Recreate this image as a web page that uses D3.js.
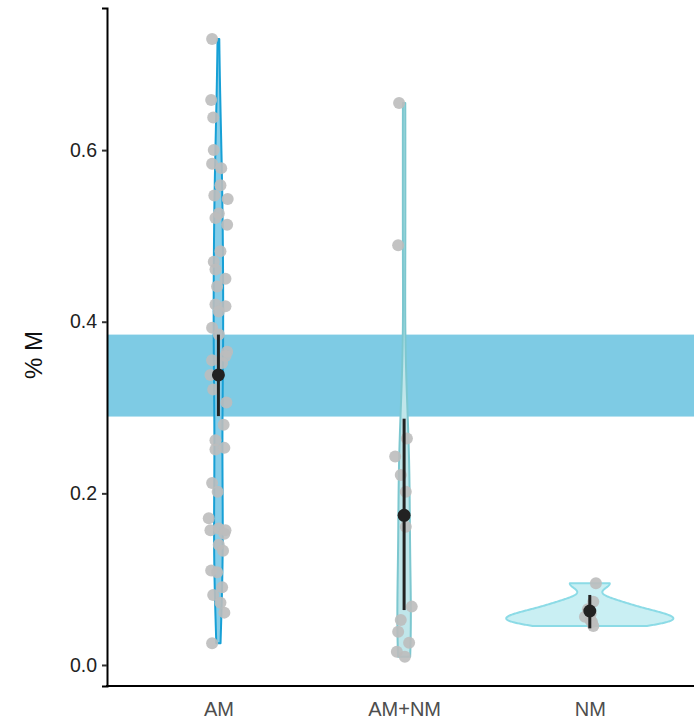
<!DOCTYPE html>
<html>
<head>
<meta charset="utf-8">
<script src="https://cdn.jsdelivr.net/npm/d3@7"></script>
<style>
  html, body { margin: 0; padding: 0; background: #fff; }
  svg { display: block; font-family: "Liberation Sans", Arial, sans-serif; }
</style>
</head>
<body>
<svg id="chart" width="694" height="724"></svg>
<script>
// ---------------- data ----------------
const categories = ["AM", "AM+NM", "NM"];

// observed values per group
const amValues = [0.7296, 0.6585, 0.638, 0.600, 0.584, 0.579, 0.559, 0.547, 0.543, 0.526, 0.521, 0.513,
  0.482, 0.470, 0.461, 0.450, 0.441, 0.420, 0.418, 0.412, 0.393, 0.385, 0.365, 0.360, 0.355, 0.352,
  0.338, 0.321, 0.306, 0.280, 0.262, 0.251, 0.253, 0.212, 0.202, 0.171, 0.157, 0.159, 0.157, 0.153,
  0.140, 0.133, 0.110, 0.108, 0.0906, 0.0816, 0.0726, 0.061, 0.0253];
// horizontal jitter (fraction of category step)
const amJitter = [-0.034, -0.039, -0.028, -0.025, -0.034, 0.015, 0.011, -0.022, 0.050, 0.002, -0.016, 0.047,
  0.011, -0.025, -0.016, 0.038, -0.007, -0.016, 0.038, 0.002, -0.034, 0.002, 0.047, 0.038, -0.034, 0.020,
  -0.043, -0.028, 0.043, 0.028, -0.016, -0.016, 0.032, -0.034, -0.004, -0.052, -0.043, 0.002, 0.038, 0.032,
  0.002, 0.025, -0.039, -0.007, 0.020, -0.028, 0.011, 0.032, -0.034];

const amnmValues = [0.655, 0.489, 0.264, 0.243, 0.2215, 0.202, 0.161, 0.068, 0.0524, 0.0388, 0.026, 0.0155, 0.0097];
const amnmJitter = [-0.027, -0.032, 0.015, -0.048, -0.018, 0.009, 0.009, 0.041, -0.018, -0.032, 0.027, -0.039, 0.004];

const nmValues = [0.0952, 0.0738, 0.065, 0.060, 0.0563, 0.052, 0.050, 0.0455];
const nmJitter = [0.033, 0.019, -0.010, 0.005, -0.026, 0.004, 0.012, 0.019];

// group estimates (mean and interval)
const estMean = [0.338, 0.1744, 0.0629];
const estLow  = [0.290, 0.064, 0.0427];
const estHigh = [0.385, 0.287, 0.0816];

// reference band
const bandLow = 0.2895;
const bandHigh = 0.3850;

const yTicks = [0.0, 0.2, 0.4, 0.6];
const yLimits = [-0.0245, 0.7656];
const yTitle = "% M";

// ---------------- styles ----------------
const violinStroke = ["#17a0d6", "#7cc7cf", "#8cdbe6"];
const violinFill   = ["#86cde8", "#c0e6ea", "#c9eff3"];

// ---------------- layout ----------------
const svg = d3.select("#chart");
const panelLeft = 107, panelBottom = 686;

const y = d3.scaleLinear().domain(yLimits).range([panelBottom, 8]);
const x = d3.scalePoint().domain(categories).range([panelLeft, 701.2]).padding(0.6);
const step = x.step();

// band
svg.append("rect")
  .attr("x", panelLeft).attr("width", 694 - panelLeft)
  .attr("y", y(bandHigh)).attr("height", y(bandLow) - y(bandHigh))
  .attr("fill", "#7ecbe4");

// ---------------- KDE (gaussian, nrd0 bandwidth, trimmed) ----------------
function nrd0(v) {
  const s = v.slice().sort(d3.ascending);
  const sd = d3.deviation(s);
  const iqr = d3.quantileSorted(s, 0.75) - d3.quantileSorted(s, 0.25);
  let lo = Math.min(sd, iqr / 1.34);
  if (!(lo > 0)) lo = sd || Math.abs(s[0]) || 1;
  return 0.9 * lo * Math.pow(s.length, -0.2);
}
function kde(v) {
  const bw = nrd0(v);
  const lo = d3.min(v), hi = d3.max(v);
  const n = 200;
  const pts = [];
  for (let i = 0; i <= n; i++) {
    const t = lo + (hi - lo) * i / n;
    let s = 0;
    for (const xi of v) { const z = (t - xi) / bw; s += Math.exp(-0.5 * z * z); }
    pts.push({ t, d: s / (v.length * bw * Math.sqrt(2 * Math.PI)) });
  }
  return pts;
}

const groups = [
  { cat: categories[0], values: amValues, jitter: amJitter },
  { cat: categories[1], values: amnmValues, jitter: amnmJitter },
  { cat: categories[2], values: nmValues, jitter: nmJitter }
];
groups.forEach(g => g.dens = kde(g.values));
const maxD = d3.max(groups, g => d3.max(g.dens, p => p.d));
const halfMax = 0.45 * step;

groups.forEach((g, i) => {
  const cx = x(g.cat);
  const area = d3.area()
    .y(p => y(p.t))
    .x0(p => cx - p.d / maxD * halfMax)
    .x1(p => cx + p.d / maxD * halfMax);
  svg.append("path")
    .attr("d", area(g.dens) + "Z")
    .attr("fill", violinFill[i])
    .attr("stroke", violinStroke[i])
    .attr("stroke-width", 2)
    .attr("stroke-linejoin", "round");
});

// points
groups.forEach(g => {
  const cx = x(g.cat);
  svg.append("g").selectAll("circle")
    .data(g.values.map((v, k) => ({ v, j: g.jitter[k] })))
    .join("circle")
    .attr("cx", d => cx + d.j * step)
    .attr("cy", d => y(d.v))
    .attr("r", 6)
    .attr("fill", "#bdbdbd")
    .attr("fill-opacity", 0.9);
});

// estimates
categories.forEach((c, i) => {
  svg.append("line")
    .attr("x1", x(c)).attr("x2", x(c))
    .attr("y1", y(estLow[i])).attr("y2", y(estHigh[i]))
    .attr("stroke", "#222").attr("stroke-width", 3);
  svg.append("circle")
    .attr("cx", x(c)).attr("cy", y(estMean[i]))
    .attr("r", 6.5).attr("fill", "#222");
});

// axes
const yAxis = d3.axisLeft(y).tickValues(yTicks).tickFormat(d3.format(".1f")).tickSize(5).tickPadding(5);
const gy = svg.append("g").attr("transform", `translate(${panelLeft},0)`).call(yAxis);
gy.select(".domain").attr("stroke", "#000").attr("stroke-width", 2);
gy.selectAll(".tick line").attr("stroke", "#333").attr("stroke-width", 2);
gy.selectAll(".tick text").attr("fill", "#222").style("font-size", "19.5px");

const xAxis = d3.axisBottom(x).tickSize(0).tickPadding(16);
const gx = svg.append("g").attr("transform", `translate(0,${panelBottom})`).call(xAxis);
gx.select(".domain").attr("d", `M${panelLeft - 1},0H694`).attr("stroke", "#000").attr("stroke-width", 2);
gx.selectAll(".tick text").attr("fill", "#4d4d4d").style("font-size", "20px");

svg.append("text")
  .attr("transform", `translate(42,${(8 + panelBottom) / 2 + 8}) rotate(-90)`)
  .attr("text-anchor", "middle")
  .style("font-size", "24px")
  .attr("fill", "#111")
  .text(yTitle);
</script>
</body>
</html>
